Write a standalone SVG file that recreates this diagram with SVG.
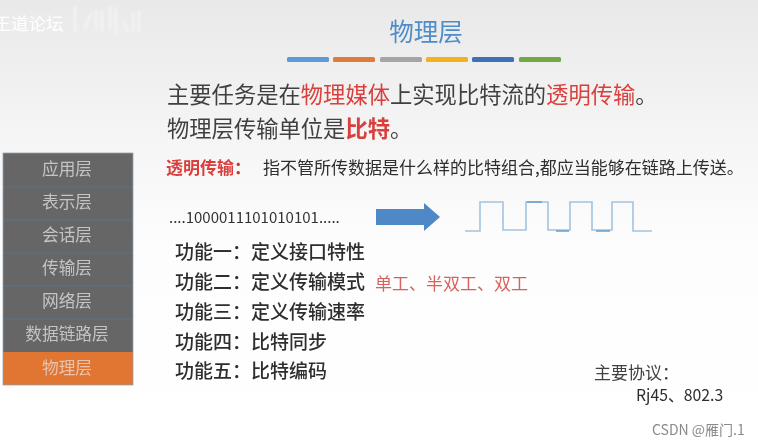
<svg xmlns="http://www.w3.org/2000/svg" width="758" height="446" viewBox="0 0 758 446">
<defs>
<linearGradient id="bg" x1="0" y1="0" x2="0" y2="1"><stop offset="0" stop-color="#e9e9e9"/><stop offset="0.28" stop-color="#f4f4f4"/><stop offset="0.55" stop-color="#fdfdfd"/><stop offset="1" stop-color="#ffffff"/></linearGradient>
<filter id="soft" filterUnits="userSpaceOnUse" x="0" y="0" width="758" height="446"><feGaussianBlur stdDeviation="0.35"/></filter>
<filter id="softer" filterUnits="userSpaceOnUse" x="60" y="0" width="100" height="50"><feGaussianBlur stdDeviation="1"/></filter>
</defs>
<style>
text{font-family:"Noto Sans CJK SC","Liberation Sans",sans-serif}
.main{font-size:22.3px;fill:#404040}
.red{fill:#d9403c}
.layer{font-size:16.7px;fill:#c4c4c4;text-anchor:middle}
.fn{font-size:19px;fill:#2e2e2e;font-weight:500}
.bar{height:5px;rx:1.5px}
.sig{fill:none;stroke:#a3c3e0;stroke-width:1.6}
</style>
<rect width="758" height="446" fill="url(#bg)"/>
<g filter="url(#soft)">
<g id="watermark">
<text x="-6.5" y="30" font-size="17.5" fill="#ffffff">王道论坛</text>
<path d="M75 6V32M84 30L92 12M96 10V30M102 10V32M110 6V30M116 8V34M124 22L128 32M133 12V32M139 10V32" fill="none" stroke="#ffffff" stroke-width="3" opacity=".35" filter="url(#softer)"/>
</g>
<g id="title">
<text x="426" y="41" font-size="24.5" fill="#4f8cc9" text-anchor="middle">物理层</text>
<rect class="bar" x="287" y="57" width="42" fill="#5b9bd5"/>
<rect class="bar" x="333" y="57" width="42" fill="#e07b3a"/>
<rect class="bar" x="380" y="57" width="42" fill="#a5a5a5"/>
<rect class="bar" x="426" y="57" width="42" fill="#f2b21c"/>
<rect class="bar" x="472" y="57" width="42" fill="#3f6fb5"/>
<rect class="bar" x="519" y="57" width="42" fill="#6fa845"/>
</g>
<g id="headline">
<text class="main" x="167" y="103">主要任务是在<tspan class="red">物理媒体</tspan>上实现比特流的<tspan class="red">透明传输</tspan>。</text>
<text class="main" x="167" y="137">物理层传输单位是<tspan class="red" font-weight="700">比特</tspan>。</text>
</g>
<g id="definition">
<text x="166" y="174" font-size="17" fill="#2e2e2e"><tspan class="red" font-weight="700">透明传输</tspan><tspan fill="#c0392b" font-weight="700">：</tspan><tspan x="263">指不管所传数据是什么样的比特组合,都应当能够在链路上传送。</tspan></text>
</g>
<g id="layer-stack">
<g id="layer-1"><rect x="3" y="153" width="130" height="34" fill="#666666"/><text class="layer" x="67" y="175">应用层</text></g>
<g id="layer-2"><rect x="3" y="187" width="130" height="33" fill="#666666"/><text class="layer" x="67" y="208">表示层</text></g>
<g id="layer-3"><rect x="3" y="220" width="130" height="33" fill="#666666"/><text class="layer" x="67" y="241">会话层</text></g>
<g id="layer-4"><rect x="3" y="253" width="130" height="33" fill="#666666"/><text class="layer" x="67" y="274">传输层</text></g>
<g id="layer-5"><rect x="3" y="286" width="130" height="33" fill="#666666"/><text class="layer" x="67" y="307">网络层</text></g>
<g id="layer-6"><rect x="3" y="319" width="130" height="33" fill="#666666"/><text class="layer" x="67" y="340">数据链路层</text></g>
<g id="layer-7"><rect x="3" y="352" width="130" height="33" fill="#e07632"/><text class="layer" x="67" y="374" style="fill:#e8c4ae">物理层</text></g>
<path d="M3 187H133M3 220H133M3 253H133M3 286H133M3 319H133" stroke="#5d7286" stroke-width="1"/>
<rect x="3" y="153" width="130" height="232" fill="none" stroke="#8fa3b5" stroke-width=".8"/>
</g>
<g id="bitstream"><text x="169" y="223" font-size="15" fill="#333333">....1000011101010101.....</text></g>
<g id="arrow"><path d="M376 209H424V203L440 217L424 231V225H376Z" fill="#4f88c6"/></g>
<g id="signal">
<path class="sig" d="M465 231H480V202H503V230H526V202H548V230H570V202H592V230H612V202H633V231H652"/>
<path d="M527 202H542M556 231H569M596 231H610" fill="none" stroke="#6e9fcc" stroke-width="1.4"/>
</g>
<g id="functions">
<text class="fn" x="175" y="259">功能一：定义接口特性</text>
<text class="fn" x="175" y="289">功能二：定义传输模式</text>
<text class="fn" x="175" y="319">功能三：定义传输速率</text>
<text class="fn" x="175" y="349">功能四：比特同步</text>
<text class="fn" x="175" y="378">功能五：比特编码</text>
</g>
<g id="modes"><text x="375" y="290" font-size="17" fill="#d9605c">单工、半双工、双工</text></g>
<g id="protocols">
<text x="594" y="379" font-size="17" fill="#404040">主要协议：</text>
<text x="636" y="401" font-size="15.8" fill="#2e2e2e">Rj45、802.3</text>
</g>
<g id="credit"><text x="652" y="435" font-size="14" fill="#8a8a8a">CSDN @雁门.1</text></g>
</g>
</svg>
